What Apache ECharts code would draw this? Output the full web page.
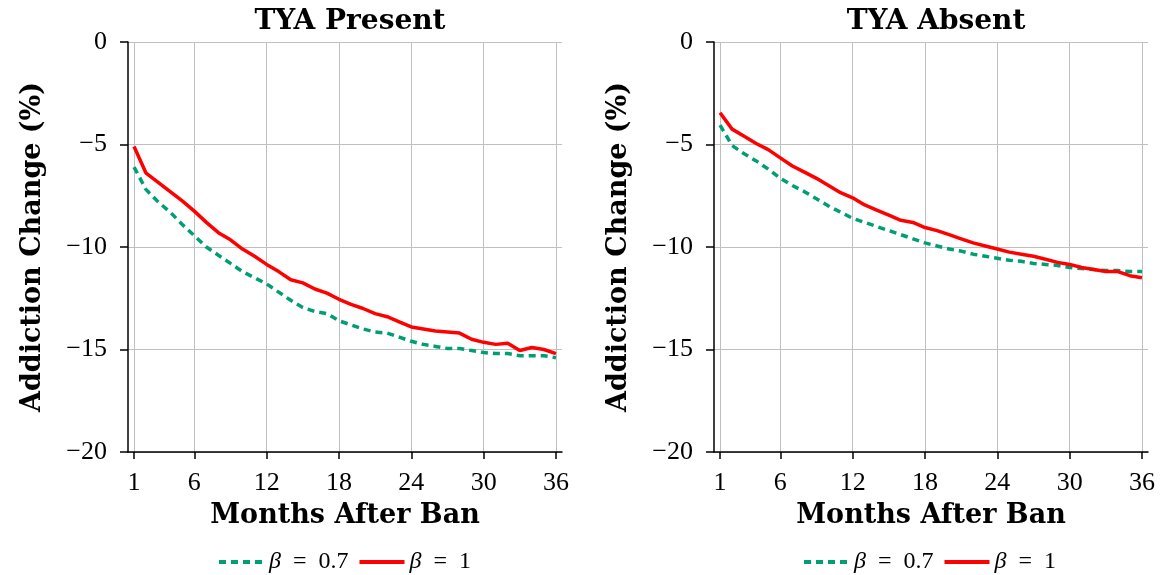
<!DOCTYPE html>
<html>
<head>
<meta charset="utf-8">
<script src="https://cdn.jsdelivr.net/npm/echarts@6/dist/echarts.min.js"></script>
<style>
  html, body { margin: 0; padding: 0; background: #fff; }
  #chart { width: 1164px; height: 575px; }
</style>
</head>
<body>
<div id="chart"></div>
<script>
// months after ban
const months = [];
for (let m = 1; m <= 36; m++) months.push(m);
const xTicks = [1, 6, 12, 18, 24, 30, 36];

// TYA present
const presentB07 = [-6.1, -7.2, -7.8, -8.3, -8.9, -9.45, -10.0, -10.4, -10.8, -11.2, -11.5, -11.8,
  -12.2, -12.6, -12.95, -13.15, -13.25, -13.6, -13.8, -14.0, -14.15, -14.2, -14.4, -14.6,
  -14.75, -14.85, -14.95, -14.95, -15.05, -15.15, -15.2, -15.2, -15.3, -15.3, -15.3, -15.4];
const presentB1 = [-5.1, -6.4, -6.85, -7.3, -7.75, -8.25, -8.8, -9.3, -9.65, -10.1, -10.45, -10.85,
  -11.2, -11.6, -11.75, -12.05, -12.25, -12.55, -12.8, -13.0, -13.25, -13.4, -13.65, -13.9,
  -14.0, -14.1, -14.15, -14.2, -14.5, -14.65, -14.75, -14.7, -15.05, -14.9, -15.0, -15.2];

// TYA absent
const absentB07 = [-4.05, -5.05, -5.45, -5.8, -6.2, -6.65, -7.0, -7.3, -7.65, -8.0, -8.3, -8.6,
  -8.8, -9.0, -9.2, -9.4, -9.6, -9.8, -9.95, -10.1, -10.2, -10.35, -10.45, -10.55,
  -10.65, -10.7, -10.8, -10.85, -10.9, -11.0, -11.05, -11.1, -11.15, -11.15, -11.2, -11.2];
const absentB1 = [-3.45, -4.25, -4.6, -4.95, -5.25, -5.65, -6.05, -6.35, -6.65, -7.0, -7.35, -7.6,
  -7.95, -8.2, -8.45, -8.7, -8.8, -9.05, -9.2, -9.4, -9.6, -9.8, -9.95, -10.1,
  -10.25, -10.35, -10.45, -10.6, -10.75, -10.85, -11.0, -11.1, -11.2, -11.2, -11.4, -11.5];

const green = "#009E73";
const red = "#FF0000";
const serif = "Liberation Serif";
const boldSerif = "DejaVu Serif";

let chartInst = echarts.init(document.getElementById("chart"));

function pairs(vals) {
  return months.map((m, i) => [m, vals[i]]);
}

function xAxisOpt(idx) {
  return {
    type: "value",
    gridIndex: idx,
    min: 0.5,
    max: 36.5,
    name: "Months After Ban",
    nameLocation: "middle",
    nameGap: 50,
    nameTextStyle: { fontFamily: boldSerif, fontWeight: "bold", fontSize: 27, color: "#000" },
    axisLine: { show: true, onZero: false, lineStyle: { color: "#000", width: 1.5 } },
    axisTick: { show: true, length: 7, customValues: xTicks, lineStyle: { color: "#000", width: 1.5 } },
    axisLabel: { customValues: xTicks, fontFamily: serif, fontSize: 26, color: "#000", margin: 18 },
    splitLine: { show: true, lineStyle: { color: "#bfbfbf", width: 1 } },
  };
}

function yAxisOpt(idx) {
  return {
    type: "value",
    gridIndex: idx,
    min: -20,
    max: 0,
    interval: 5,
    name: "Addiction Change (%)",
    nameLocation: "middle",
    nameGap: 82,
    nameTextStyle: { fontFamily: boldSerif, fontWeight: "bold", fontSize: 27, color: "#000" },
    axisLine: { show: true, lineStyle: { color: "#000", width: 1.5 } },
    axisTick: { show: true, length: 8, lineStyle: { color: "#000", width: 1.5 } },
    axisLabel: {
      fontFamily: serif, fontSize: 26, color: "#000", margin: 21,
      formatter: (v) => String(v).replace("-", "\u2212"),
    },
    splitLine: { show: true, lineStyle: { color: "#bfbfbf", width: 1 } },
  };
}

function lineSeries(name, vals, idx, color, dashed) {
  return {
    name: name,
    type: "line",
    xAxisIndex: idx,
    yAxisIndex: idx,
    data: pairs(vals),
    symbol: "none",
    animation: false,
    lineStyle: { color: color, width: 3.5, type: dashed ? [7, 5] : "solid" },
    itemStyle: { color: color },
  };
}

function legendOpt(left) {
  return {
    data: ["\u03b2 = 0.7", "\u03b2 = 1"],
    left: left,
    top: 545,
    itemWidth: 45,
    itemHeight: 14,
    itemGap: 9,
    selectedMode: false,
    itemStyle: { opacity: 0 },
    lineStyle: { width: 4 },
    formatter: (n) => n.replace("\u03b2", "{i|\u03b2}").replace(" = ", "\u2002=\u2002"),
    textStyle: {
      fontFamily: serif, fontSize: 24, color: "#000",
      rich: { i: { fontFamily: serif, fontStyle: "italic", fontSize: 24, color: "#000" } },
    },
  };
}

let option = {
  backgroundColor: "#fff",
  animation: false,
  title: [
    { text: "TYA Present", left: 345, top: 3, textAlign: "center",
      textStyle: { fontFamily: boldSerif, fontWeight: "bold", fontSize: 28, color: "#000" } },
    { text: "TYA Absent", left: 931, top: 3, textAlign: "center",
      textStyle: { fontFamily: boldSerif, fontWeight: "bold", fontSize: 28, color: "#000" } },
  ],
  grid: [
    { left: 128, top: 42, width: 434, height: 410 },
    { left: 714, top: 42, width: 434, height: 410 },
  ],
  xAxis: [xAxisOpt(0), xAxisOpt(1)],
  yAxis: [yAxisOpt(0), yAxisOpt(1)],
  legend: [legendOpt(212), legendOpt(797)],
  series: [
    lineSeries("\u03b2 = 0.7", presentB07, 0, green, true),
    lineSeries("\u03b2 = 1", presentB1, 0, red, false),
    lineSeries("\u03b2 = 0.7", absentB07, 1, green, true),
    lineSeries("\u03b2 = 1", absentB1, 1, red, false),
  ],
};

chartInst.setOption(option, true);
</script>
</body>
</html>
